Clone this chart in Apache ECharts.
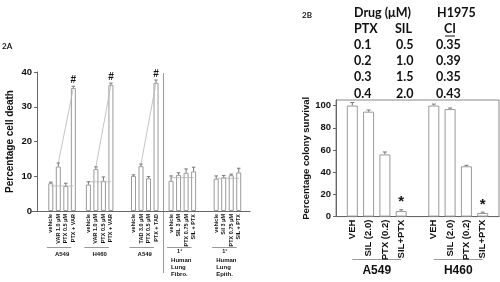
<!DOCTYPE html>
<html><head><meta charset="utf-8">
<script src="https://cdn.jsdelivr.net/npm/echarts@6/dist/echarts.min.js"></script>
<style>html,body{margin:0;padding:0;background:#fff}#c{width:500px;height:282px}</style>
</head><body><div id="c"></div>
<script>
// ---------- Panel 2A data ----------
const aGroupNames = [['A549'], ['H460'], ['A549'], ['1°', 'Human', 'Lung', 'Fibro.'], ['1°', 'Human', 'Lung', 'Epith.']];
const aLabels = [
  ['vehicle', 'VAR 1.0 μM', 'PTX 0.5 μM', 'PTX + VAR'],
  ['vehicle', 'VAR 1.0 μM', 'PTX 0.5 μM', 'PTX + VAR'],
  ['vehicle', 'TAD 3.0 μM', 'PTX 0.5 μM', 'PTX + TAD'],
  ['vehicle', 'SIL 3 μM', 'PTX 0.75 μM', 'SIL + PTX'],
  ['vehicle', 'Sil 3 μM', 'PTX 0.75 μM', 'SIL + PTX']
];
const aValues = [
  [8.0, 12.8, 7.2, 35.4],
  [7.6, 12.1, 8.7, 36.3],
  [10.1, 12.9, 9.4, 36.9],
  [8.7, 10.4, 11.0, 11.4],
  [9.3, 9.7, 10.3, 11.1]
];
const aErrors = [
  [0.3, 1.0, 0.8, 0.5],
  [0.8, 0.6, 1.1, 0.5],
  [0.3, 0.6, 0.5, 0.8],
  [1.4, 0.6, 1.1, 1.2],
  [0.8, 0.5, 0.3, 1.2]
];
const aMarks = [['', '', '', '#'], ['', '', '', '#'], ['', '', '', '#'], ['', '', '', ''], ['', '', '', '']];
const aRefLevel = [7.2, 8.4, null, 9.6, 9.4];
const aHasTrend = [true, true, true, false, false];
const aYTicks = [0, 10, 20, 30, 40];

// ---------- Panel 2B data ----------
const bGroupNames = ['A549', 'H460'];
const bLabels = ['VEH', 'SIL (2.0)', 'PTX (0.2)', 'SIL+PTX'];
const bValues = [[100, 94.5, 56, 5], [100, 96.8, 45.3, 3.2]];
const bErrors = [[2.7, 1.5, 2.2, 1.2], [1.3, 1.0, 0.9, 0.8]];
const bMarks = [['', '', '', '*'], ['', '', '', '*']];
const bYTicks = [0, 20, 40, 60, 80, 100];

// ---------- Table data ----------
const tHead1 = ['Drug (μM)', 'H1975'];
const tHead2 = ['PTX', 'SIL', 'CI'];
const tPtx = ['0.1', '0.2', '0.3', '0.4'];
const tSil = ['0.5', '1.0', '1.5', '2.0'];
const tCI = ['0.35', '0.39', '0.35', '0.43'];

// ---------- build category layouts ----------
const aGaps = [2, 1, 2, 1, 2], aTrail = 1;
const aCats = [], aVals = [], aErrs = [], aMk = [], aIdx = [];
aGroupNames.forEach((g, gi) => {
  for (let i = 0; i < aGaps[gi]; i++) { aCats.push(''); aVals.push('-'); aErrs.push(0); aMk.push(''); }
  const idx = [];
  for (let j = 0; j < 4; j++) {
    idx.push(aCats.length);
    aCats.push(aLabels[gi][j]); aVals.push(aValues[gi][j]); aErrs.push(aErrors[gi][j]); aMk.push(aMarks[gi][j]);
  }
  aIdx.push(idx);
});
for (let i = 0; i < aTrail; i++) { aCats.push(''); aVals.push('-'); aErrs.push(0); aMk.push(''); }

const bGaps = [1, 1], bTrail = 1;
const bCats = [], bVals = [], bErrs = [], bMk = [], bIdx = [];
bGroupNames.forEach((g, gi) => {
  for (let i = 0; i < bGaps[gi]; i++) { bCats.push(''); bVals.push('-'); bErrs.push(0); bMk.push(''); }
  const idx = [];
  for (let j = 0; j < 4; j++) {
    idx.push(bCats.length);
    bCats.push(bLabels[j]); bVals.push(bValues[gi][j]); bErrs.push(bErrors[gi][j]); bMk.push(bMarks[gi][j]);
  }
  bIdx.push(idx);
});
for (let i = 0; i < bTrail; i++) { bCats.push(''); bVals.push('-'); bErrs.push(0); bMk.push(''); }

const FONT = '"Liberation Sans", Arial, sans-serif';
const TFONT = 'Lato, "Open Sans", sans-serif';
const AXC = '#666', BARC = '#9a9a9a', ERRC = '#777', TXT = '#111';

function errSeries(xi, vals, errs, marks, capW, markSize, markGap) {
  const data = [];
  vals.forEach((v, i) => { if (v !== '-') data.push([i, v, errs[i]]); });
  return {
    type: 'custom', xAxisIndex: xi, yAxisIndex: xi, z: 5, silent: true,
    renderItem: (p, api) => {
      const i = api.value(0), v = api.value(1), e = api.value(2);
      const b = api.coord([i, v]), t = api.coord([i, v + e]);
      const ch = [
        { type: 'line', shape: { x1: b[0], y1: b[1], x2: t[0], y2: t[1] }, style: { stroke: ERRC, lineWidth: 1 } },
        { type: 'line', shape: { x1: t[0] - capW / 2, y1: t[1], x2: t[0] + capW / 2, y2: t[1] }, style: { stroke: ERRC, lineWidth: 1 } }
      ];
      if (marks[i]) ch.push({ type: 'text', x: t[0], y: t[1] - markGap, style: { text: marks[i], fontSize: markSize, fontWeight: 'bold', fontFamily: FONT, fill: TXT, align: 'center', verticalAlign: 'bottom' } });
      return { type: 'group', children: ch };
    },
    data
  };
}

const series = [
  { type: 'bar', xAxisIndex: 0, yAxisIndex: 0, data: aVals, barWidth: 5, itemStyle: { color: '#fff', borderColor: BARC, borderWidth: 1 }, z: 3 },
  errSeries(0, aVals, aErrs, aMk, 3.5, 10, 1),
  { type: 'bar', xAxisIndex: 1, yAxisIndex: 1, data: bVals, barWidth: 11, itemStyle: { color: '#fff', borderColor: BARC, borderWidth: 1 }, z: 3 },
  errSeries(1, bVals, bErrs, bMk, 4, 15, 0)
];
// trend and reference lines of 2A
aIdx.forEach((idx, gi) => {
  if (aHasTrend[gi]) {
    const d = aCats.map(() => null);
    d[idx[1]] = aValues[gi][1] + aErrors[gi][1];
    d[idx[3]] = aValues[gi][3];
    series.push({ type: 'line', xAxisIndex: 0, yAxisIndex: 0, data: d, connectNulls: true, symbol: 'none', lineStyle: { color: '#b5b5b5', width: 0.8 }, z: 4, silent: true });
  }
  if (aRefLevel[gi] != null) {
    const d = aCats.map(() => null);
    for (let k = idx[0]; k <= idx[3]; k++) d[k] = aRefLevel[gi];
    series.push({ type: 'line', xAxisIndex: 0, yAxisIndex: 0, data: d, symbol: 'none', lineStyle: { color: '#b5b5b5', width: 0.8 }, z: 4, silent: true });
  }
});

const yAxisCommon = {
  type: 'value', nameLocation: 'middle', nameRotate: 90,
  axisLine: { show: true, lineStyle: { color: AXC } },
  axisTick: { show: true, length: 3, lineStyle: { color: AXC } },
  splitLine: { show: false }
};

const option = {
  animation: false,
  grid: [
    { left: 32, top: 72, width: 218, height: 139 },
    { left: 336, top: 100, width: 163, height: 116.6, show: true, borderColor: '#888', borderWidth: 1, backgroundColor: 'transparent' }
  ],
  xAxis: [
    { gridIndex: 0, type: 'category', data: aCats, boundaryGap: true, axisLine: { lineStyle: { color: AXC } }, axisTick: { show: false },
      axisLabel: { interval: 0, rotate: 90, fontSize: 5.5, fontWeight: 'bold', color: TXT, margin: 3, fontFamily: FONT } },
    { gridIndex: 1, type: 'category', data: bCats, boundaryGap: false, axisLine: { lineStyle: { color: AXC } }, axisTick: { show: false },
      axisLabel: { interval: 0, rotate: 90, fontSize: 9.5, fontWeight: 'bold', color: TXT, margin: 3, fontFamily: FONT } }
  ],
  yAxis: [
    Object.assign({}, yAxisCommon, { gridIndex: 0, min: aYTicks[0], max: aYTicks[aYTicks.length - 1], interval: 10, offset: -5,
      name: 'Percentage cell death', nameGap: 22, nameTextStyle: { fontSize: 10, fontWeight: 'bold', color: TXT, fontFamily: FONT },
      axisLabel: { fontSize: 9.5, fontWeight: 'bold', color: TXT, margin: 5, fontFamily: FONT } }),
    Object.assign({}, yAxisCommon, { gridIndex: 1, min: bYTicks[0], max: 105, interval: 20,
      name: 'Percentage colony survival', nameGap: 24, nameTextStyle: { fontSize: 9.5, fontWeight: 'bold', color: TXT, fontFamily: FONT },
      axisLabel: { fontSize: 9.5, fontWeight: 'bold', color: TXT, margin: 5, fontFamily: FONT, showMaxLabel: false } })
  ],
  series
};

const chart = echarts.init(document.getElementById('c'), null, { renderer: 'canvas', width: 500, height: 282 });
chart.setOption(option);

// ---------- annotations placed through the axes ----------
const g = [];
const px0 = i => chart.convertToPixel({ gridIndex: 0 }, [i, 0]);
const px1 = i => chart.convertToPixel({ gridIndex: 1 }, [i, 0]);
const line = (x1, y1, x2, y2, c) => ({ type: 'line', shape: { x1, y1, x2, y2 }, style: { stroke: c || '#888', lineWidth: 1 }, silent: true });
const text = (t, x, y, size, align, fam, weight) => ({ type: 'text', x, y, silent: true,
  style: { text: t, fontSize: size, fontFamily: fam || FONT, fontWeight: weight || 'bold', fill: TXT, align: align || 'center', verticalAlign: 'middle' } });

// panel labels
g.push(text('2A', 2, 46, 8, 'left', TFONT));
g.push(text('2B', 302, 15, 8, 'left', TFONT));

// 2A divider between cancer lines and primary cells
const divX = px0(aIdx[2][3] + 1)[0];
const topY = chart.convertToPixel({ gridIndex: 0 }, [0, aYTicks[aYTicks.length - 1]])[1];
g.push(line(divX, topY + 1, divX, 273, '#999'));

// 2A group brackets and names
aIdx.forEach((idx, gi) => {
  const xa = px0(idx[0])[0], xb = px0(idx[3])[0];
  g.push(line(xa - 4, 247.5, xb - 2, 247.5, '#999'));
  const nm = aGroupNames[gi];
  if (nm.length === 1) g.push(text(nm[0], (xa + xb) / 2, 254, 6, 'center'));
  else {
    g.push(text(nm[0], xa + 6, 251, 5.5, 'left'));
    for (let k = 1; k < nm.length; k++) g.push(text(nm[k], xa, 253 + 7 * k, 6, 'left'));
  }
});

// 2B group brackets and names
bIdx.forEach((idx, gi) => {
  const xa = px1(idx[0])[0], xb = px1(idx[3])[0];
  g.push(line(xa, 259.5, xb, 259.5, '#999'));
  g.push(text(bGroupNames[gi], (xa + xb) / 2, 271, 12, 'center'));
});

// CI table
const TS = 12.5;
const colX = [354, 395, 436];
g.push(text(tHead1[0], colX[0], 13, TS, 'left', TFONT));
g.push(text(tHead1[1], colX[2] + 1, 13, TS, 'left', TFONT));
g.push(text(tHead2[0], colX[0], 29, TS, 'left', TFONT));
g.push(text(tHead2[1], colX[1], 29, TS, 'left', TFONT));
g.push(text(tHead2[2], 450, 29, TS, 'center', TFONT));
g.push(line(445, 36, 455, 36, '#111'));
tPtx.forEach((v, r) => {
  const y = 45 + 16.2 * r;
  g.push(text(v, colX[0], y, TS, 'left', TFONT));
  g.push(text(tSil[r], colX[1] + 1, y, TS, 'left', TFONT));
  g.push(text(tCI[r], colX[2], y, TS, 'left', TFONT));
});

chart.setOption({ graphic: g });
</script>
</body></html>
